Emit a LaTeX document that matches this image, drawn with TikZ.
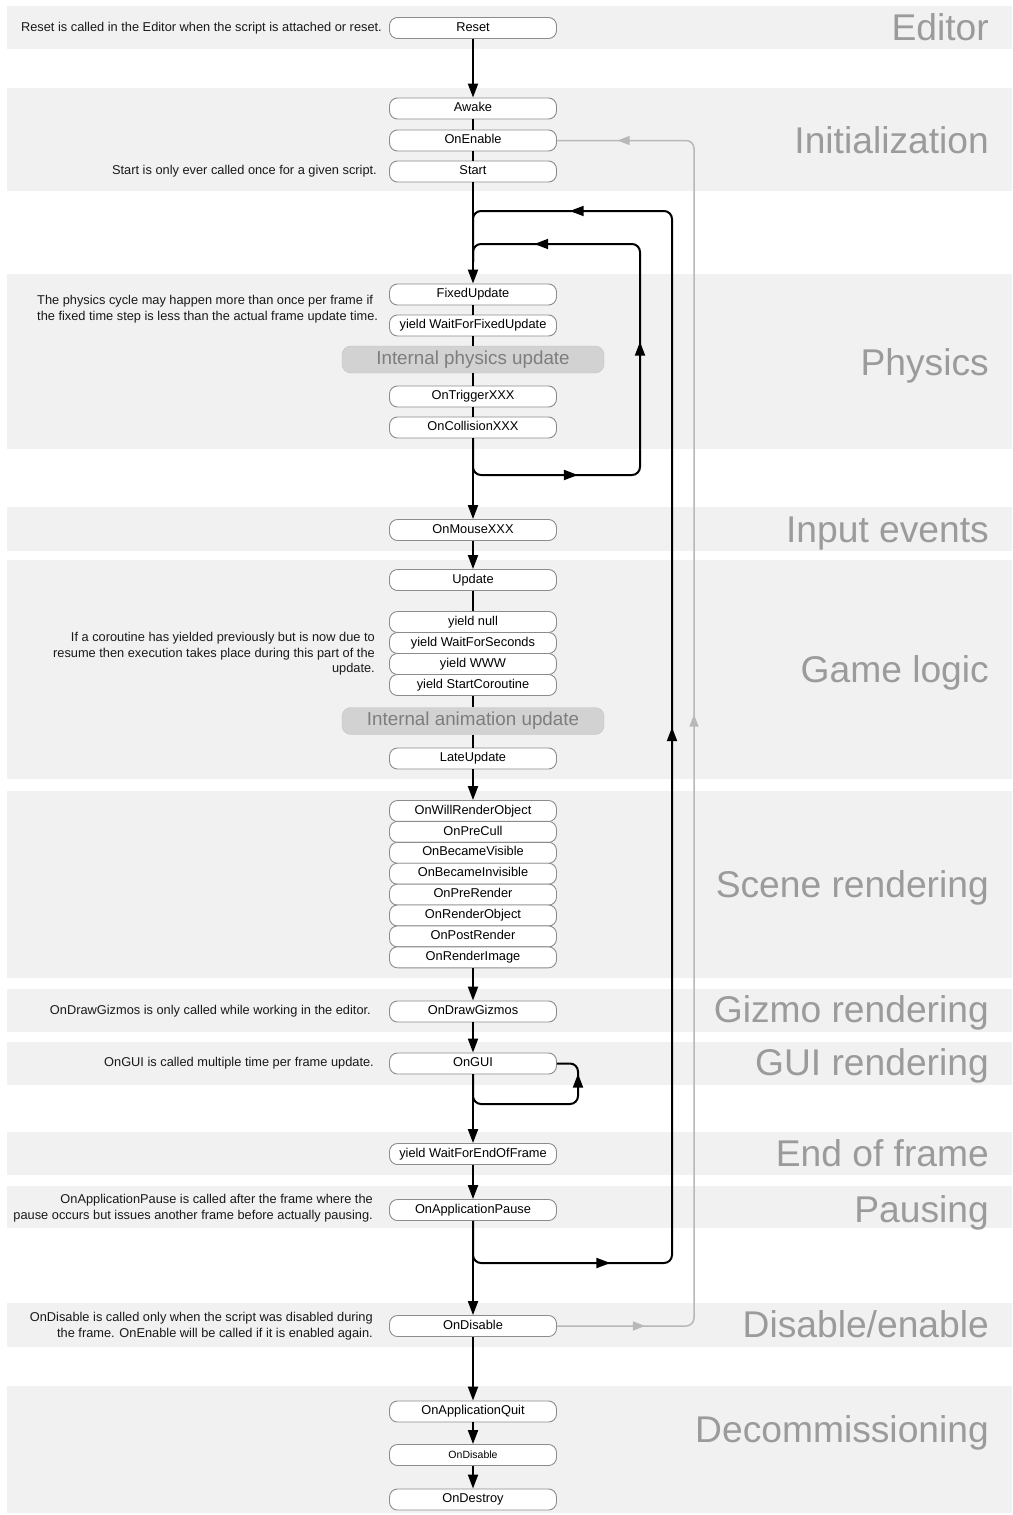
\documentclass[tikz,border=0pt]{standalone}
\usepackage{fontspec}
\setmainfont{Liberation Sans}
\usetikzlibrary{arrows.meta,decorations.markings}

\definecolor{bandfill}{RGB}{241,241,241}
\definecolor{titlegray}{RGB}{155,155,155}
\definecolor{boxline}{RGB}{140,140,140}
\definecolor{pillfill}{RGB}{210,210,210}
\definecolor{pilltext}{RGB}{125,125,125}
\definecolor{backline}{RGB}{184,184,184}
\definecolor{notetext}{RGB}{25,25,25}

\begin{document}
\begin{tikzpicture}
    [x=1pt,y=-1pt,
     loophead/.tip={Triangle[length=14pt,width=10pt]},
     backhead/.tip={Triangle[length=12pt,width=9pt]},
     box/.style={draw=boxline, fill=white, line width=0.9pt, rounded corners=8pt,
                 minimum width=167pt, minimum height=21pt, inner sep=0pt,
                 text height=9pt, text depth=2.7pt, font=\fontsize{12.8}{15}\selectfont},
     pill/.style={draw=pillfill!92!black, fill=pillfill, rounded corners=9pt,
                  minimum width=262pt, minimum height=27pt, inner sep=0pt,
                  text height=13.5pt, text depth=4pt, text=pilltext, font=\fontsize{18.8}{21}\selectfont},
     note/.style={inner sep=0pt, text=notetext, align=right, font=\fontsize{12.8}{15.5}\selectfont},
     title/.style={anchor=base east, inner sep=0pt, text=titlegray, font=\fontsize{37.2}{41}\selectfont},
     flow/.style={-{loophead}, line width=2pt},
     link/.style={line width=2pt},
     loopline/.style={line width=2pt, rounded corners=8pt},
     backloop/.style={draw=backline, line width=1.5pt, rounded corners=8pt}]

    \useasboundingbox (0,0) rectangle (1012,1515);
    \fill[white] (0,0) rectangle (1012,1515);

    % bands
    \foreach \top/\bot in {6/49, 88/191, 274/449, 507/551, 560/779, 791/978,
                           989/1032, 1042/1085, 1132/1175, 1186/1228, 1303/1347, 1386/1513}
      \fill[bandfill] (7,\top) rectangle (1012,\bot);

    \node[title] (t-editor) at (989,40) {Editor};
    \node[title] (t-init) at (989,153) {Initialization};
    \node[title] (t-physics) at (989,375) {Physics};
    \node[title] (t-input) at (989,542) {Input events};
    \node[title] (t-logic) at (989,682) {Game logic};
    \node[title] (t-scene) at (989,897) {Scene rendering};
    \node[title] (t-gizmo) at (989,1022) {Gizmo rendering};
    \node[title] (t-gui) at (989,1075) {GUI rendering};
    \node[title] (t-frame) at (989,1166) {End of frame};
    \node[title] (t-pause) at (989,1222) {Pausing};
    \node[title] (t-disable) at (989,1337) {Disable/enable};
    \node[title] (t-decom) at (989,1442) {Decommissioning};

    % event boxes
    \node[box] (reset) at (473,28) {Reset};
    \node[box] (awake) at (473,108.5) {Awake};
    \node[box] (enable) at (473,140.5) {OnEnable};
    \node[box] (start) at (473,171.5) {Start};
    \node[box] (fixed) at (473,294.5) {FixedUpdate};
    \node[box] (waitfixed) at (473,325.5) {yield WaitForFixedUpdate};
    \node[pill] (physint) at (473,359.5) {Internal physics update};
    \node[box] (trigger) at (473,396.5) {OnTriggerXXX};
    \node[box] (collision) at (473,427.5) {OnCollisionXXX};
    \node[box] (mouse) at (473,530) {OnMouseXXX};
    \node[box] (update) at (473,580) {Update};
    \node[box] (ynull) at (473,622) {yield null};
    \node[box] (yseconds) at (473,643) {yield WaitForSeconds};
    \node[box] (ywww) at (473,664) {yield WWW};
    \node[box] (ycoroutine) at (473,685) {yield StartCoroutine};
    \node[pill] (animint) at (473,721) {Internal animation update};
    \node[box] (late) at (473,758.5) {LateUpdate};
    \foreach \name/\label [count=\i from 0] in {willrender/OnWillRenderObject, precull/OnPreCull,
        visible/OnBecameVisible, invisible/OnBecameInvisible, prerender/OnPreRender,
        renderobj/OnRenderObject, postrender/OnPostRender, renderimage/OnRenderImage}
      \node[box] (\name) at (473,{811+20.9*\i}) {\label};
    \node[box] (gizmos) at (473,1011.5) {OnDrawGizmos};
    \node[box] (gui) at (473,1063.5) {OnGUI};
    \node[box] (endframe) at (473,1154) {yield WaitForEndOfFrame};
    \node[box] (pause) at (473,1210) {OnApplicationPause};
    \node[box] (disable) at (473,1326) {OnDisable};
    \node[box] (quit) at (473,1411.5) {OnApplicationQuit};
    \node[box, font=\fontsize{10.5}{12}\selectfont] (disable2) at (473,1455) {OnDisable};
    \node[box] (destroy) at (473,1499.5) {OnDestroy};

    % notes
    \node[note, anchor=east] (n-reset) at (382,28) {Reset is called in the Editor when the script is attached or reset.};
    \node[note, anchor=east] (n-start) at (377,171.5) {Start is only ever called once for a given script.};
    \node[note, anchor=west, align=left] (n-physics) at (37,309) {The physics cycle may happen more than once per frame if\\the fixed time step is less than the actual frame update time.};
    \node[note, anchor=east] (n-coroutine) at (375,654) {If a coroutine has yielded previously but is now due to\\resume then execution takes place during this part of the\\update.};
    \node[note, anchor=east] (n-gizmos) at (371,1011.5) {OnDrawGizmos is only called while working in the editor.};
    \node[note, anchor=east] (n-gui) at (374,1063.5) {OnGUI is called multiple time per frame update.};
    \node[note, anchor=east] (n-pause) at (373,1208) {OnApplicationPause is called after the frame where the\\pause occurs but issues another frame before actually pausing.};
    \node[note, anchor=east] (n-disable) at (373,1326) {OnDisable is called only when the script was disabled during\\the frame. OnEnable will be called if it is enabled again.};

    % loop corners
    \coordinate (join) at (473,262);
    \coordinate (outerlow) at (672,1263);
    \coordinate (outerhigh) at (672,211);
    \coordinate (innerlow) at (640,475);
    \coordinate (innerhigh) at (640,244);
    \coordinate (guilow) at (578,1104);
    \coordinate (guihigh) at (578,1063.5);
    \coordinate (enlow) at (694,1326);
    \coordinate (enhigh) at (694,140.5);

    \foreach \from/\to in {reset/awake, start/fixed, collision/mouse, mouse/update, late/willrender,
                           renderimage/gizmos, gizmos/gui, gui/endframe, endframe/pause,
                           pause/disable, disable/quit, quit/disable2, disable2/destroy}
      \draw[flow] (\from) -- (\to);

    \foreach \from/\to in {awake/enable, enable/start, fixed/waitfixed, waitfixed/physint,
                           physint/trigger, trigger/collision, update/ynull, ycoroutine/animint, animint/late}
      \draw[link] (\from) -- (\to);

    % frame loop
    \draw[loopline, postaction={decorate, decoration={markings,
        mark=at position 176pt with {\arrow{loophead}},
        mark=at position 770pt with {\arrow{loophead}},
        mark=at position 1385pt with {\arrow{loophead}}}}]
      (pause.south) |- (outerlow) -- (outerhigh) -| (join);

    % physics loop
    \draw[loopline, postaction={decorate, decoration={markings,
        mark=at position 138pt with {\arrow{loophead}},
        mark=at position 330pt with {\arrow{loophead}},
        mark=at position 530pt with {\arrow{loophead}}}}]
      (collision.south) |- (innerlow) -- (innerhigh) -| (join);

    % gui loop
    \draw[loopline, postaction={decorate, decoration={markings,
        mark=at position 158pt with {\arrow{loophead}}}}]
      (gui.south) |- (guilow) -- (guihigh) -- (gui.east);

    % disable / enable
    \draw[backloop, postaction={decorate, decoration={markings,
        mark=at position 88pt with {\arrow[backline]{backhead}},
        mark=at position 745pt with {\arrow[backline]{backhead}},
        mark=at position 1392pt with {\arrow[backline]{backhead}}}}]
      (disable.east) -- (enlow) -- (enhigh) -- (enable.east);
\end{tikzpicture}
\end{document}
